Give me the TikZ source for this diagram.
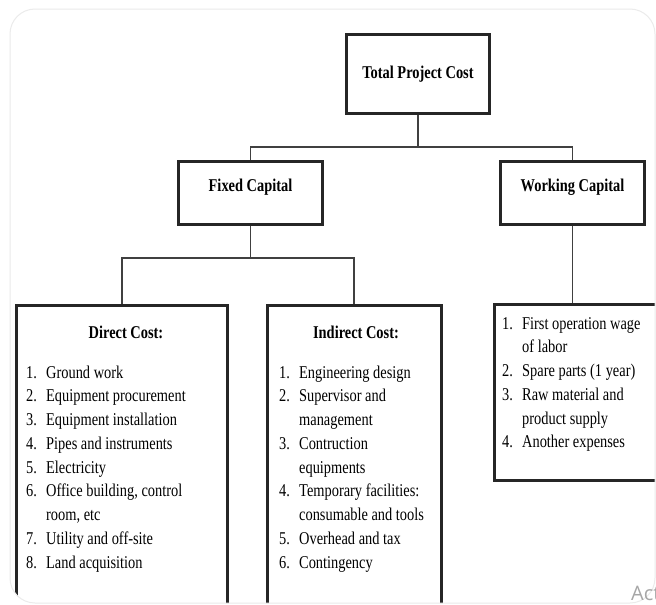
\documentclass[tikz,border=0pt]{standalone}
\usepackage{fontspec}
\setmainfont{Liberation Serif}[FakeStretch=0.8]
\newfontfamily\uifont{Open Sans}
\newcommand{\lnum}[1]{\makebox[20pt][l]{#1}}
\begin{document}
\begin{tikzpicture}[x=1pt,y=-1pt,
  heading/.style={draw=black!85, line width=3pt, fill=white, inner sep=0pt,
    font=\fontsize{18}{22}\selectfont\bfseries},
  raised/.style={text height=13pt, text depth=16pt},
  listbox/.style={draw=black!85, line width=3pt, inner sep=0pt, anchor=north},
  link/.style={draw=black!75, line width=1.1pt},
  itemlist/.style={anchor=north west, inner sep=0pt,
    font=\fontsize{18}{23.75}\selectfont},
  boxtitle/.style={inner sep=0pt, font=\fontsize{18}{22}\selectfont\bfseries}]
\useasboundingbox (0,0) rectangle (656,605);
\fill[white] (0,0) rectangle (656,605);
\begin{scope}
  \clip[rounded corners=25pt] (10,9) rectangle (655,603);
  % top levels
  \node[heading, minimum width=143pt, minimum height=79pt] (tpc) at (418,74) {Total Project Cost};
  \node[heading, raised, minimum width=144pt, minimum height=63pt] (fc) at (250.5,193) {Fixed Capital};
  \node[heading, raised, minimum width=144pt, minimum height=63pt] (wc) at (572.5,193) {Working Capital};
  % cost breakdown boxes
  \node[listbox, minimum width=211pt, minimum height=340pt] (dc) at (122,303.5) {};
  \node[listbox, minimum width=174pt, minimum height=340pt] (ic) at (354,303.5) {};
  \node[draw=black!85, line width=3pt, inner sep=0pt, anchor=north west,
        minimum width=190pt, minimum height=176pt] (wl) at (492.5,302.5) {};
  % tree connectors
  \draw[link] (tpc.south) -- ++(0,32) -| (fc.north);
  \draw[link] (tpc.south) -- ++(0,32) -| (wc.north);
  \draw[link] (fc.south) -- ++(0,32) -| (dc.north);
  \draw[link] (fc.south) -- ++(0,32) -| (ic.north);
  \draw[link] (wc.south) -- (wc.south |- wl.north);
  % contents
  \node[boxtitle] (dct) at (126,332) {Direct Cost:};
  \node[boxtitle] (ict) at (356,332) {Indirect Cost:};
  \node[itemlist] (dcl) at (26,361.4) {\begin{tabular}{@{}l@{}}
    \lnum{1.}Ground work\\
    \lnum{2.}Equipment procurement\\
    \lnum{3.}Equipment installation\\
    \lnum{4.}Pipes and instruments\\
    \lnum{5.}Electricity\\
    \lnum{6.}Office building, control\\
    \lnum{}room, etc\\
    \lnum{7.}Utility and off-site\\
    \lnum{8.}Land acquisition
  \end{tabular}};
  \node[itemlist] (icl) at (279,361.4) {\begin{tabular}{@{}l@{}}
    \lnum{1.}Engineering design\\
    \lnum{2.}Supervisor and\\
    \lnum{}management\\
    \lnum{3.}Contruction\\
    \lnum{}equipments\\
    \lnum{4.}Temporary facilities:\\
    \lnum{}consumable and tools\\
    \lnum{5.}Overhead and tax\\
    \lnum{6.}Contingency
  \end{tabular}};
  \node[itemlist] (wcl) at (502,312.4) {\begin{tabular}{@{}l@{}}
    \lnum{1.}First operation wage\\
    \lnum{}of labor\\
    \lnum{2.}Spare parts (1 year)\\
    \lnum{3.}Raw material and\\
    \lnum{}product supply\\
    \lnum{4.}Another expenses
  \end{tabular}};
\end{scope}
% card outline
\draw[black!8, line width=1pt, rounded corners=25pt] (10,9) rectangle (655,603);
\node[anchor=base west, inner sep=0pt, text=black!35, font=\uifont\fontsize{20}{24}\selectfont] (act) at (631,600) {Act};
\end{tikzpicture}
\end{document}
